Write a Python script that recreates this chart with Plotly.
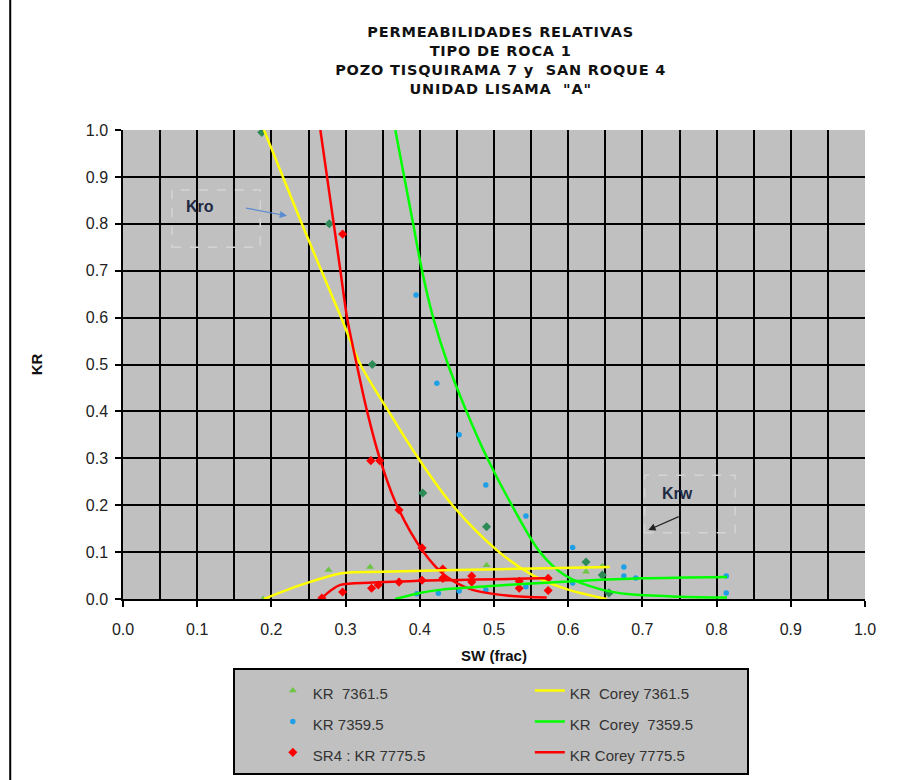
import plotly.graph_objects as go

# ---------------- data ----------------
# KR 7361.5 (points): first krw (triangles), then kro (diamonds)
kr7361_sw = [0.189, 0.277, 0.333, 0.49, 0.624, 0.646,
             0.187, 0.278, 0.336, 0.404, 0.49, 0.624, 0.646, 0.655]
kr7361_kr = [0.0, 0.062, 0.068, 0.072, 0.058, 0.070,
             0.995, 0.80, 0.50, 0.226, 0.154, 0.079, 0.051, 0.013]
kr7361_kind = ["w"] * 6 + ["o"] * 8

# KR 7359.5 (points)
kr7359_sw = [0.395, 0.423, 0.453, 0.489, 0.543, 0.606, 0.675, 0.675, 0.691,
             0.813, 0.813, 0.396, 0.425, 0.453, 0.489, 0.543, 0.606]
kr7359_kr = [0.648, 0.46, 0.35, 0.243, 0.177, 0.110, 0.068, 0.049, 0.045,
             0.049, 0.013, 0.011, 0.012, 0.017, 0.019, 0.026, 0.034]

# SR4 : KR 7775.5 (points)
sr4_sw = [0.296, 0.334, 0.346, 0.372, 0.403, 0.431,
          0.268, 0.296, 0.335, 0.344, 0.372, 0.403, 0.431, 0.47, 0.47,
          0.534, 0.534, 0.573, 0.573]
sr4_kr = [0.778, 0.295, 0.295, 0.19, 0.109, 0.064,
          0.002, 0.015, 0.023, 0.03, 0.036, 0.04, 0.044, 0.049, 0.036,
          0.038, 0.023, 0.044, 0.018]

# Corey curves
y_kro_sw = [0.19, 0.241, 0.294, 0.320, 0.358, 0.398, 0.444, 0.507, 0.553, 0.60, 0.652]
y_kro_kr = [1.0, 0.8, 0.6, 0.5, 0.4, 0.3, 0.2, 0.1, 0.05, 0.02, 0.0]
y_krw_sw = [0.19, 0.24, 0.295, 0.35, 0.49, 0.656]
y_krw_kr = [0.0, 0.03, 0.055, 0.058, 0.063, 0.068]

g_kro_sw = [0.367, 0.379, 0.391, 0.403, 0.418, 0.438, 0.463, 0.491, 0.524, 0.562,
            0.596, 0.645, 0.683, 0.75, 0.814]
g_kro_kr = [1.0, 0.9, 0.8, 0.7, 0.6, 0.5, 0.4, 0.3, 0.2, 0.1,
            0.05, 0.02, 0.01, 0.005, 0.003]
g_krw_sw = [0.367, 0.40, 0.43, 0.49, 0.55, 0.62, 0.70, 0.814]
g_krw_kr = [0.0, 0.013, 0.02, 0.027, 0.033, 0.039, 0.044, 0.047]

r_kro_sw = [0.266, 0.275, 0.284, 0.293, 0.302, 0.315, 0.329, 0.346, 0.369, 0.405,
            0.434, 0.47, 0.52, 0.571]
r_kro_kr = [1.0, 0.9, 0.8, 0.7, 0.6, 0.5, 0.4, 0.3, 0.2, 0.1,
            0.05, 0.02, 0.007, 0.003]
r_krw_sw = [0.268, 0.28, 0.293, 0.337, 0.427, 0.571]
r_krw_kr = [0.002, 0.018, 0.03, 0.035, 0.04, 0.044]

x_ticks = [0.0, 0.1, 0.2, 0.3, 0.4, 0.5, 0.6, 0.7, 0.8, 0.9, 1.0]
y_ticks = [0.0, 0.1, 0.2, 0.3, 0.4, 0.5, 0.6, 0.7, 0.8, 0.9, 1.0]

title_lines = ["PERMEABILIDADES RELATIVAS", "TIPO DE ROCA 1",
               "POZO TISQUIRAMA 7 y  SAN ROQUE 4", "UNIDAD LISAMA  \"A\""]

NB = "\u00a0"
def lname(s):
    return '<span style="font-size:15px">' + s.replace(" ", NB) + "</span>"

def tline(s):
    return '<span style="letter-spacing:0.8px">' + s.replace(" ", NB) + "</span>"

FONT = "Liberation Sans, Arial, sans-serif"

fig = go.Figure()

# points (legend column 1)
fig.add_trace(go.Scatter(
    x=kr7361_sw, y=kr7361_kr, mode="markers", name=lname("KR  7361.5"),
    legendgroup="pts",
    marker=dict(symbol=["triangle-up" if k == "w" else "diamond" for k in kr7361_kind],
                color=["#6CC644" if k == "w" else "#2E8B57" for k in kr7361_kind],
                size=7)))
fig.add_trace(go.Scatter(
    x=kr7359_sw, y=kr7359_kr, mode="markers", name=lname("KR 7359.5"),
    legendgroup="pts", marker=dict(symbol="circle", color="#1E9FE6", size=5.5)))
fig.add_trace(go.Scatter(
    x=sr4_sw, y=sr4_kr, mode="markers", name=lname("SR4 : KR 7775.5"),
    legendgroup="pts", marker=dict(symbol="diamond", color="#FF0000", size=7)))

# curves (legend column 2)
curves = [
    (y_kro_sw, y_kro_kr, y_krw_sw, y_krw_kr, "#FFFF00", "KR  Corey 7361.5"),
    (g_kro_sw, g_kro_kr, g_krw_sw, g_krw_kr, "#00FF00", "KR  Corey  7359.5"),
    (r_kro_sw, r_kro_kr, r_krw_sw, r_krw_kr, "#FF0000", "KR Corey 7775.5"),
]
for kx, ky, wx, wy, col, nm in curves:
    fig.add_trace(go.Scatter(x=kx, y=ky, mode="lines", name=lname(nm),
                             legendgroup="lines",
                             line=dict(color=col, width=2.5, shape="spline", smoothing=0.9)))
for kx, ky, wx, wy, col, nm in curves:
    fig.add_trace(go.Scatter(x=wx, y=wy, mode="lines", name=lname(nm),
                             legendgroup="lines", showlegend=False,
                             line=dict(color=col, width=2.5, shape="spline", smoothing=0.9)))

axis_common = dict(
    range=[0, 1], showline=True, linecolor="black", linewidth=1.5,
    ticks="outside", ticklen=6, tickcolor="black", tickwidth=1.5,
    zeroline=False, showgrid=True, gridcolor="black", gridwidth=1.8,
    tickformat=".1f", tickfont=dict(family=FONT, size=16, color="#222222"),
)

fig.update_xaxes(**axis_common, tickmode="array", tickvals=x_ticks,
                 ticklabelstandoff=9,
                 minor=dict(dtick=0.05, tick0=0, showgrid=True, gridcolor="black",
                            gridwidth=1.8, ticks=""),
                 title=dict(text="<b>SW (frac)</b>", standoff=14,
                            font=dict(family=FONT, size=15, color="#111111")))
fig.update_yaxes(**axis_common, tickmode="array", tickvals=y_ticks,
                 ticklabelstandoff=4,
                 title=dict(text="<b>KR</b>", standoff=40,
                            font=dict(family=FONT, size=15, color="#111111")))

# annotation boxes
fig.add_shape(type="rect", xref="x", yref="y", x0=0.066, x1=0.185, y0=0.75, y1=0.872,
              line=dict(color="#D4D4D4", width=1.5, dash="dash"), layer="above")
fig.add_shape(type="rect", xref="x", yref="y", x0=0.703, x1=0.825, y0=0.141, y1=0.264,
              line=dict(color="#D4D4D4", width=1.5, dash="dash"), layer="above")

fig.add_annotation(x=0.104, y=0.836, xref="x", yref="y", text="<b>Kro</b>",
                   showarrow=False, font=dict(family=FONT, size=16, color="#1F2A44"))
fig.add_annotation(x=0.747, y=0.226, xref="x", yref="y", text="<b>Krw</b>",
                   showarrow=False, font=dict(family=FONT, size=16, color="#1F2A44"))
fig.add_annotation(x=0.221, y=0.817, ax=0.164, ay=0.834, xref="x", yref="y",
                   axref="x", ayref="y", text="", showarrow=True, arrowhead=2,
                   arrowsize=1.2, arrowwidth=1.2, arrowcolor="#5B8BD0")
fig.add_annotation(x=0.708, y=0.147, ax=0.751, ay=0.177, xref="x", yref="y",
                   axref="x", ayref="y", text="", showarrow=True, arrowhead=2,
                   arrowsize=1.2, arrowwidth=1.2, arrowcolor="#222222")

# left page border line
fig.add_shape(type="line", xref="paper", yref="paper",
              x0=-0.152, x1=-0.152, y0=-0.386, y1=1.277,
              line=dict(color="black", width=2))

fig.update_layout(
    width=922, height=780,
    margin=dict(l=123, r=57, t=130, b=181, autoexpand=False),
    paper_bgcolor="white", plot_bgcolor="#C0C0C0",
    title=dict(text="<b>" + "<br>".join(tline(s) for s in title_lines) + "</b>",
               x=0.543, xanchor="center", y=0.952, yanchor="top",
               font=dict(family="DejaVu Sans, sans-serif", size=14.5, color="#111111")),
    legend=dict(orientation="h", traceorder="grouped", x=0.148, xanchor="left",
                y=0.1436, yref="container", yanchor="top", bgcolor="#C0C0C0",
                bordercolor="black", borderwidth=2, entrywidth=172, indentation=40,
                tracegroupgap=0,
                font=dict(family=FONT, size=21.5, color="#333333")),
    showlegend=True,
)

fig.write_html("out.html")
